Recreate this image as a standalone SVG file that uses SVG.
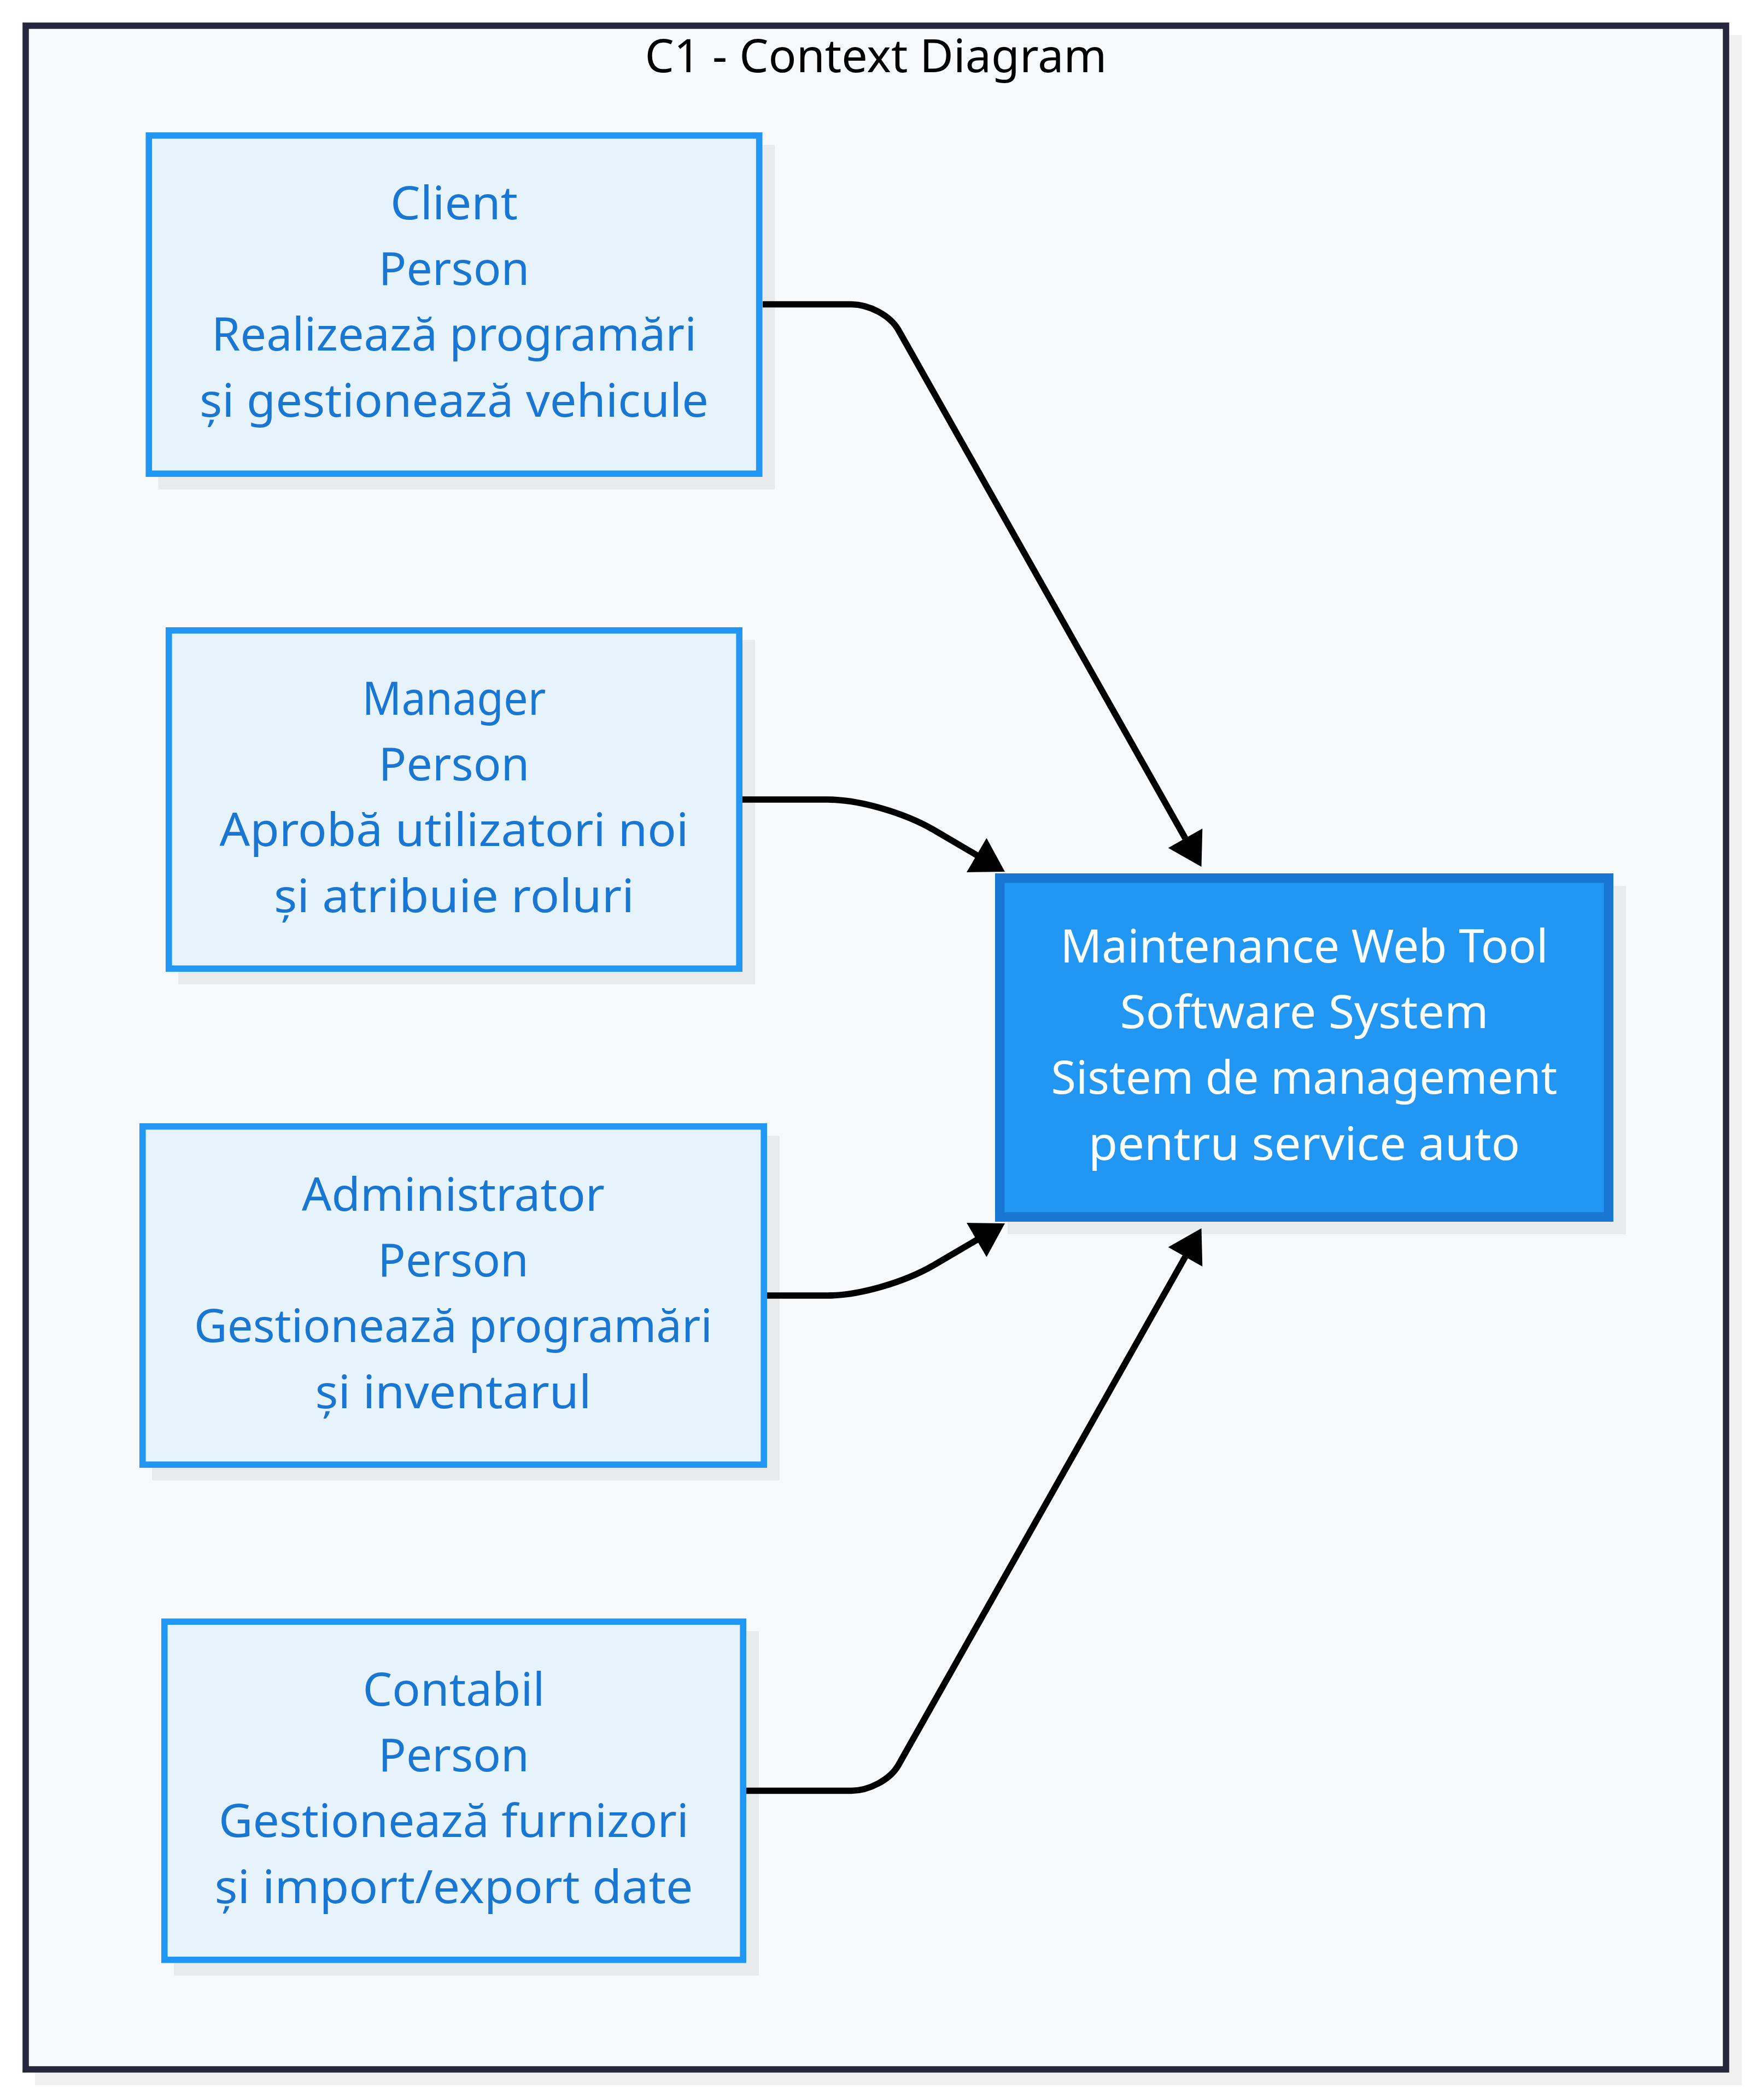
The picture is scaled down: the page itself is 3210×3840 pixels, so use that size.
<svg xmlns="http://www.w3.org/2000/svg" width="3210" height="3840" viewBox="0 0 3210 3840">
<style>
  .txt { font-family: "Noto Sans", "Open Sans", "Liberation Sans", sans-serif; font-size: 84px; text-anchor: middle; }
  .person-txt { fill: #1976D2; }
  .sys-txt { fill: #FFFFFF; }
  .title { fill: #000000; }
  .shadow { fill: #000000; fill-opacity: 0.06; }
  .person { fill: #E6F3FD; stroke: #2196F3; stroke-width: 11.6; }
  .system { fill: #2196F3; stroke: #1976D2; stroke-width: 17.4; }
  .edge { fill: none; stroke: #000000; stroke-width: 11.6; }
  .head { fill: #000000; }
</style>
<rect x="0" y="0" width="3210" height="3840" fill="#FFFFFF"/>
<g id="frame">
  <rect class="shadow" x="64" y="64" width="3122" height="3749"/>
  <rect x="47" y="47" width="3110" height="3737" fill="#F8F9FA" stroke="#26263C" stroke-width="11.6"/>
  <text class="txt title" x="1602" y="132" textLength="845" lengthAdjust="spacingAndGlyphs">C1 - Context Diagram</text>
</g>
<g id="connectors">
  <path class="edge" d="M 1395 556.5 L 1557 556.5 C 1590 556.5, 1628 577, 1643 603 L 2168 1533"/>
  <polygon class="head" points="2197.5,1585 2136.7,1550.5 2199.3,1515.1"/>
  <path class="edge" d="M 1358 1462 L 1513 1462 C 1573 1462, 1655 1487, 1707 1517 L 1787 1564"/>
  <polygon class="head" points="1838,1594 1768,1595 1804.5,1532.4"/>
  <path class="edge" d="M 1403 2369 L 1513 2369 C 1573 2369, 1655 2344, 1707 2314 L 1787 2267"/>
  <polygon class="head" points="1838,2237 1768,2236 1804.5,2298.6"/>
  <path class="edge" d="M 1365 3274.5 L 1557 3274.5 C 1590 3274.5, 1628 3254, 1643 3228 L 2168 2298"/>
  <polygon class="head" points="2197.5,2246 2136.7,2280.5 2199.3,2315.9"/>
</g>
<g id="client">
  <rect class="shadow" x="289.5" y="265" width="1128" height="630"/>
  <rect class="person" x="272.3" y="247.8" width="1116.4" height="618.4"/>
  <text class="txt person-txt" x="830.5" y="401" textLength="233" lengthAdjust="spacingAndGlyphs">Client</text>
  <text class="txt person-txt" x="830.5" y="521">Person</text>
  <text class="txt person-txt" x="830.5" y="641" textLength="887" lengthAdjust="spacingAndGlyphs">Realizează programări</text>
  <text class="txt person-txt" x="830.5" y="762" textLength="931" lengthAdjust="spacingAndGlyphs">și gestionează vehicule</text>
</g>
<g id="manager">
  <rect class="shadow" x="326" y="1170" width="1055" height="630"/>
  <rect class="person" x="308.8" y="1152.8" width="1043.4" height="618.4"/>
  <text class="txt person-txt" x="830.5" y="1306.5" textLength="336" lengthAdjust="spacingAndGlyphs">Manager</text>
  <text class="txt person-txt" x="830.5" y="1426.5">Person</text>
  <text class="txt person-txt" x="830.5" y="1546.5" textLength="858" lengthAdjust="spacingAndGlyphs">Aprobă utilizatori noi</text>
  <text class="txt person-txt" x="830.5" y="1667.5" textLength="659" lengthAdjust="spacingAndGlyphs">și atribuie roluri</text>
</g>
<g id="administrator">
  <rect class="shadow" x="278" y="2077" width="1148" height="630"/>
  <rect class="person" x="260.8" y="2059.8" width="1136.4" height="618.4"/>
  <text class="txt person-txt" x="829" y="2213.5" textLength="554" lengthAdjust="spacingAndGlyphs">Administrator</text>
  <text class="txt person-txt" x="829" y="2333.5">Person</text>
  <text class="txt person-txt" x="829" y="2453.5" textLength="948" lengthAdjust="spacingAndGlyphs">Gestionează programări</text>
  <text class="txt person-txt" x="829" y="2574.5" textLength="505" lengthAdjust="spacingAndGlyphs">și inventarul</text>
</g>
<g id="contabil">
  <rect class="shadow" x="318" y="2982.5" width="1070" height="630"/>
  <rect class="person" x="300.8" y="2965.3" width="1058.4" height="618.4"/>
  <text class="txt person-txt" x="830" y="3119" textLength="333" lengthAdjust="spacingAndGlyphs">Contabil</text>
  <text class="txt person-txt" x="830" y="3239">Person</text>
  <text class="txt person-txt" x="830" y="3359" textLength="860" lengthAdjust="spacingAndGlyphs">Gestionează furnizori</text>
  <text class="txt person-txt" x="830" y="3480" textLength="875" lengthAdjust="spacingAndGlyphs">și import/export date</text>
</g>
<g id="maintenance-web-tool">
  <rect class="shadow" x="1843" y="1620" width="1131" height="637"/>
  <rect class="system" x="1828.7" y="1605.7" width="1113.6" height="619.6"/>
  <text class="txt sys-txt" x="2385.5" y="1760" textLength="892" lengthAdjust="spacingAndGlyphs">Maintenance Web Tool</text>
  <text class="txt sys-txt" x="2385.5" y="1880" textLength="674" lengthAdjust="spacingAndGlyphs">Software System</text>
  <text class="txt sys-txt" x="2385.5" y="2000" textLength="926" lengthAdjust="spacingAndGlyphs">Sistem de management</text>
  <text class="txt sys-txt" x="2385.5" y="2121" textLength="789" lengthAdjust="spacingAndGlyphs">pentru service auto</text>
</g>
</svg>
